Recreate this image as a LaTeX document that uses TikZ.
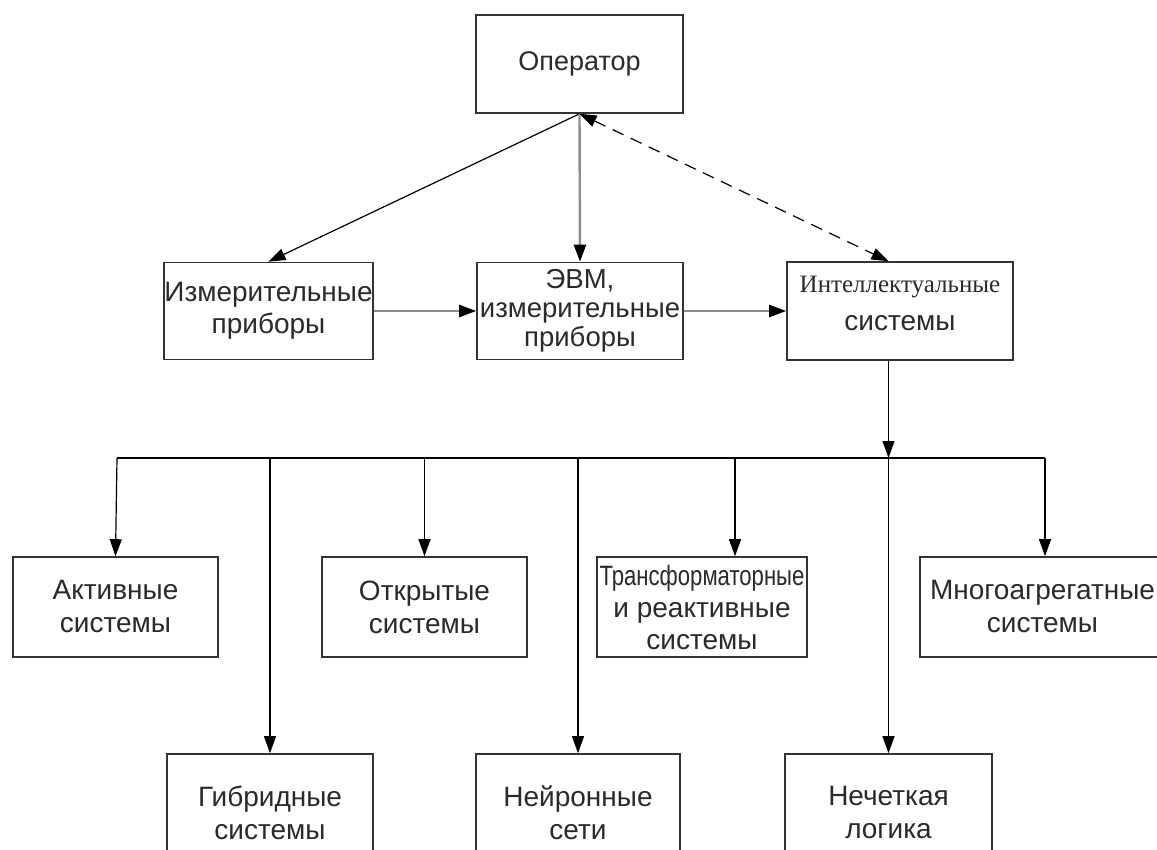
\documentclass[tikz,border=0pt]{standalone}
\usepackage{fontspec}
\setmainfont{Liberation Sans}
\newfontfamily\serifcyr{Liberation Serif}
\usetikzlibrary{arrows.meta,calc}
\definecolor{edge}{HTML}{333333}
\definecolor{ink}{HTML}{2A2A2A}
\definecolor{wire}{HTML}{8C8C8C}
\begin{document}
\begin{tikzpicture}[x=1pt,y=-1pt,
  box/.style={draw=edge,line width=1.6pt,fill=white,align=center,inner sep=0pt,
    text=ink,font=\fontsize{28}{32}\selectfont},
  link/.style={draw=black,line width=1.2pt,-{Triangle[length=17pt,width=12pt]}},
  wide/.style={draw=wire,line width=2.4pt,-{Triangle[length=17pt,width=12pt,fill=black,color=black]}},
  plain/.style={draw=black,line width=1.2pt},
  hint/.style={draw=black,line width=1.2pt,dash pattern=on 12pt off 8pt,
    {Triangle[length=17pt,width=12pt]}-{Triangle[length=17pt,width=12pt]}}]
\useasboundingbox (0,0) rectangle (1157,850);
\clip (0,0) rectangle (1157,850);
\fill[white] (0,0) rectangle (1157,850);

% top row
\node[box,minimum width=207pt,minimum height=98pt,font=\fontsize{27}{31}\selectfont] (op) at (579.5,64) {Оператор};

% second row
\node[box,minimum width=209pt,minimum height=97pt] (izm) at (268.5,311) {Измерительные\\приборы};
\node[box,minimum width=206pt,minimum height=97pt,font=\fontsize{27.5}{29}\selectfont] (evm) at (580,311) {ЭВМ,\\измерительные\\приборы};
\node[box,minimum width=226pt,minimum height=98pt] (intel) at (900,311)
  {\raisebox{1pt}[0pt][0pt]{\parbox{220pt}{\centering{\serifcyr\fontsize{25}{28}\selectfont Интеллектуальные}\\[6pt]системы}}};

% third row
\node[box,minimum width=205pt,minimum height=100pt,font=\fontsize{28}{33}\selectfont] (akt) at (115.5,607) {Активные\\системы};
\node[box,minimum width=205pt,minimum height=100pt,font=\fontsize{28}{33}\selectfont] (otk) at (424.5,607) {Открытые\\системы};
\node[box,minimum width=210pt,minimum height=100pt] (trf) at (702,607)
  {\scalebox{0.79}[1]{Трансформаторные}\\и реактивные\\системы};
\node[box,minimum width=245pt,minimum height=100pt,font=\fontsize{28}{33}\selectfont] (mng) at (1042.5,607) {Многоагрегатные\\системы};

% bottom row
\node[box,minimum width=206pt,minimum height=118pt,font=\fontsize{28}{33}\selectfont] (gib) at (270,813) {Гибридные\\системы};
\node[box,minimum width=204pt,minimum height=118pt,font=\fontsize{28}{33}\selectfont] (nei) at (578,813) {Нейронные\\сети};
\node[box,minimum width=207pt,minimum height=118pt,font=\fontsize{28}{33}\selectfont] (nech) at (888.5,813) {Нечеткая\\логика};

% distribution bus
\coordinate (busL) at (117,458);
\coordinate (busR) at (1045,458);
\coordinate (busT) at (735,458);
\coordinate (hub) at (intel.south -| nech.north);

% connectors from the operator
\draw[link] (op.south) -- (izm.north);
\draw[wide] (op.south) -- (evm.north);
\draw[hint] (op.south) -- (intel.north -| nech.north);

% data flow along the second row
\draw[wide] (izm.east) -- (evm.west);
\draw[wide] (evm.east) -- (intel.west);

% branching into the classes of systems
\draw[link] (hub) -- (hub |- busL);
\draw[plain] (busL) -- (busR);
\draw[link] (busL) -- (akt.north);
\draw[link] (gib.north |- busL) -- (gib.north);
\draw[link] (otk.north |- busL) -- (otk.north);
\draw[link] (nei.north |- busL) -- (nei.north);
\draw[link] (busT) -- (busT |- trf.north);
\draw[link] (hub |- busL) -- (nech.north);
\draw[link] (busR) -- (busR |- mng.north);
\end{tikzpicture}
\end{document}
